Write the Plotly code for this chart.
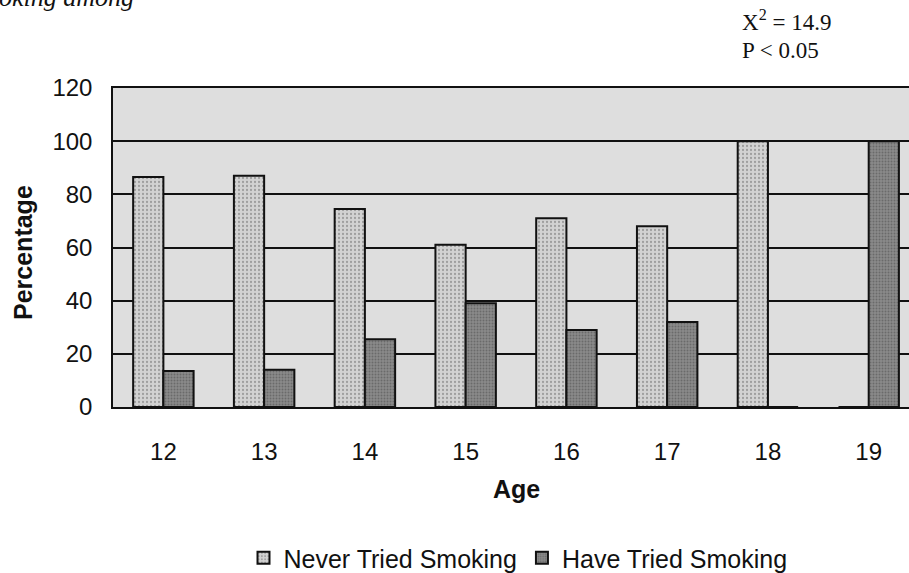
import plotly.graph_objects as go

# Smoking status by age (percent of each age group)
ages = ["12", "13", "14", "15", "16", "17", "18", "19"]
never_tried = [86.5, 87, 74.5, 61, 71, 68, 100, 0]
have_tried = [13.5, 14, 25.5, 39, 29, 32, 0, 100]
y_ticks = [0, 20, 40, 60, 80, 100, 120]

W, H = 909, 573
L, T, B = 113, 88, 166          # margins in px
plot_w = W - L
plot_h = H - T - B


def px_x(px):
    return (px - L) / plot_w


def px_y(py):
    return (H - B - py) / plot_h


fig = go.Figure()
fig.add_trace(go.Bar(
    name="Never Tried Smoking", x=ages, y=never_tried,
    marker=dict(color="#cbcbcb", line=dict(color="#111", width=2),
                pattern=dict(shape=".", fgcolor="#6a6a6a", bgcolor="#d2d2d2",
                             size=4, solidity=0.25)),
))
fig.add_trace(go.Bar(
    name="Have Tried Smoking", x=ages, y=have_tried,
    marker=dict(color="#7c7c7c", line=dict(color="#111", width=2),
                pattern=dict(shape=".", fgcolor="#4a4a4a", bgcolor="#8a8a8a",
                             size=3, solidity=0.35)),
))

font = "Liberation Sans, Arial, sans-serif"
serif = "Liberation Serif, Times New Roman, serif"

fig.update_layout(
    width=W, height=H,
    margin=dict(l=L, r=0, t=T, b=B, pad=0, autoexpand=False),
    paper_bgcolor="white",
    plot_bgcolor="#dedede",
    barmode="group", bargap=0.4, bargroupgap=0,
    font=dict(family=font, size=23, color="#111"),
    showlegend=True,
    legend=dict(orientation="h", x=px_x(518), xanchor="center",
                y=px_y(558), yanchor="middle",
                font=dict(size=25, family=font, color="#111"),
                itemwidth=30, tracegroupgap=0),
    xaxis=dict(range=[-0.5, 7.4], showgrid=False, ticks="",
               showline=True, linecolor="#111", linewidth=1.5, mirror=True,
               tickfont=dict(size=24), ticklabelstandoff=22),
    yaxis=dict(range=[0, 120], tickvals=y_ticks, showgrid=True,
               gridcolor="#111", gridwidth=2.2, zeroline=False, ticks="",
               showline=True, linecolor="#111", linewidth=1.5, mirror=True,
               tickfont=dict(size=24), ticklabelstandoff=14),
)

annotations = [
    dict(text="<b>Percentage</b>", x=px_x(23), y=px_y(253), textangle=-90,
         font=dict(size=25, family=font, color="#111")),
    dict(text="<b>Age</b>", x=px_x(516), y=px_y(489),
         font=dict(size=25, family=font, color="#111")),
    dict(text="X<sup>2</sup> = 14.9", x=px_x(740), y=px_y(20), xanchor="left",
         font=dict(size=23, family=serif, color="#111")),
    dict(text="P &lt; 0.05", x=px_x(740), y=px_y(50), xanchor="left",
         font=dict(size=23, family=serif, color="#111")),
    dict(text="<i>oking among</i>", x=px_x(-3), y=px_y(14), xanchor="left",
         yanchor="bottom", font=dict(size=26, family=serif, color="#111")),
]
for a in annotations:
    a.setdefault("xanchor", "center")
    a.setdefault("yanchor", "middle")
    fig.add_annotation(xref="paper", yref="paper", showarrow=False, **a)

fig.write_html("out.html")
